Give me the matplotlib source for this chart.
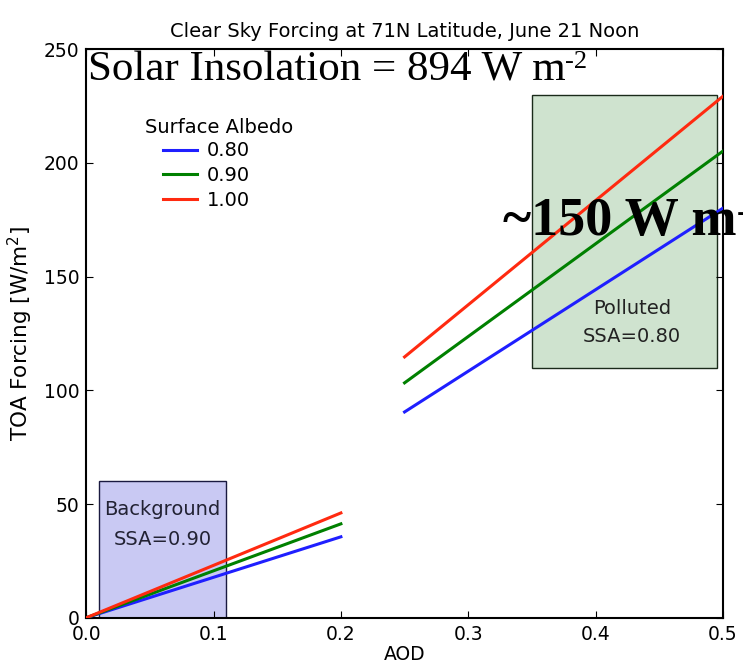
import matplotlib
matplotlib.use("Agg")
import matplotlib.pyplot as plt
from matplotlib.patches import Rectangle

# Data
albedo_labels = ["0.80", "0.90", "1.00"]
colors = ["#1f1fff", "#008000", "#ff2a10"]

aod_bg = [0.0, 0.2]
forcing_bg = {
    "0.80": [0.0, 35.6],
    "0.90": [0.0, 41.3],
    "1.00": [0.0, 46.1],
}
aod_pol = [0.25, 0.5]
forcing_pol = {
    "0.80": [90.5, 180.1],
    "0.90": [103.3, 205.2],
    "1.00": [114.7, 229.3],
}

bg_box = dict(x0=0.01, x1=0.11, y0=0, y1=60)
pol_box = dict(x0=0.35, x1=0.495, y0=110, y1=230)

xticks = [0.0, 0.1, 0.2, 0.3, 0.4, 0.5]
yticks = [0, 50, 100, 150, 200, 250]

fig = plt.figure(figsize=(7.43, 6.65), dpi=100)
ax = fig.add_axes([0.116, 0.071, 0.857, 0.855])

ax.add_patch(Rectangle((bg_box["x0"], bg_box["y0"]), bg_box["x1"] - bg_box["x0"],
                       bg_box["y1"] - bg_box["y0"], facecolor="#c9c9f3",
                       edgecolor="#1a1a40", lw=1.0, zorder=1))
ax.add_patch(Rectangle((pol_box["x0"], pol_box["y0"]), pol_box["x1"] - pol_box["x0"],
                       pol_box["y1"] - pol_box["y0"], facecolor="#cfe3cf",
                       edgecolor="#1a2a1a", lw=1.0, zorder=1))

for lab, c in zip(albedo_labels, colors):
    ax.plot(aod_bg, forcing_bg[lab], color=c, lw=2.2, label=lab, zorder=3)
    ax.plot(aod_pol, forcing_pol[lab], color=c, lw=2.2, zorder=3)

ax.text(0.06, 41, "Background\nSSA=0.90", ha="center", va="center", fontsize=14,
        color="#222233", linespacing=1.75, zorder=4)
ax.text(0.4285, 130, "Polluted\nSSA=0.80", ha="center", va="center", fontsize=14,
        color="#222222", linespacing=1.6, zorder=4)

ax.set_xlim(0, 0.5)
ax.set_ylim(0, 250)
ax.set_xticks(xticks)
ax.set_xticklabels([f"{v:.1f}" for v in xticks])
ax.set_yticks(yticks)
ax.tick_params(direction="in", top=True, right=True, labelsize=13.5, length=5, pad=5)
for s in ax.spines.values():
    s.set_linewidth(1.5)

ax.set_xlabel("AOD", fontsize=13.5, labelpad=1)
ax.set_ylabel("TOA Forcing [W/m$^2$]", fontsize=15.5, labelpad=6)
ax.set_title("Clear Sky Forcing at 71N Latitude, June 21 Noon", fontsize=14, pad=9)

leg = ax.legend(loc="upper left", bbox_to_anchor=(0.121, 0.838),
                frameon=False, fontsize=14, handlelength=1.75,
                labelspacing=0.3, handletextpad=0.5, borderpad=0.0,
                borderaxespad=0.0)
ax.text(0.2085, 0.862, "Surface Albedo", transform=ax.transAxes, fontsize=14,
        ha="center", va="center")

t1 = fig.text(0.118, 0.895, "Solar Insolation = 894 W m", family="Liberation Serif",
              fontsize=31, va="center", ha="left")
t2 = fig.text(0.677, 0.666, "~150 W m", family="Liberation Serif", fontweight="bold",
              fontsize=39, va="center", ha="left")

fig.canvas.draw()
r = fig.canvas.get_renderer()
for t, fs, wt in [(t1, 19, "normal"), (t2, 24, "bold")]:
    bb = t.get_window_extent(r)
    x = bb.x1 / fig.bbox.width
    y = (bb.y1 - 0.02 * bb.height) / fig.bbox.height
    fig.text(x, y, "-2", family="Liberation Serif", fontsize=fs, fontweight=wt,
             va="top", ha="left")

fig.savefig("out.png", dpi=100)
